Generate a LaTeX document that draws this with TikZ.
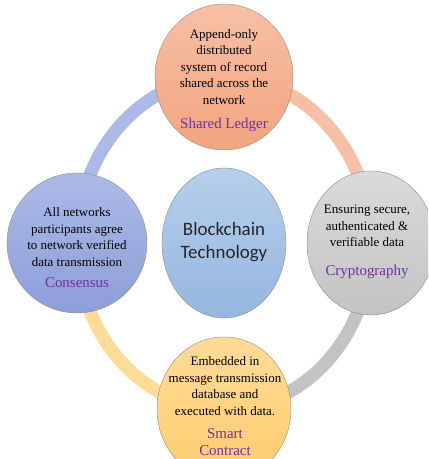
\documentclass[tikz,border=0pt]{standalone}
\usepackage{fontspec}
\setmainfont{Liberation Serif}
\newfontfamily\hubfont{Carlito}
\usepackage{tikz}
\usetikzlibrary{shapes.geometric,backgrounds,positioning}
\definecolor{tagpurple}{HTML}{7030A0}
\definecolor{ledgertop}{HTML}{F7C0A6}
\definecolor{ledgerbot}{HTML}{F2A47F}
\definecolor{cryptotop}{HTML}{DADADA}
\definecolor{cryptobot}{HTML}{C3C3C3}
\definecolor{contracttop}{HTML}{FFDB98}
\definecolor{contractbot}{HTML}{FFCC6E}
\definecolor{consensustop}{HTML}{ABBAE7}
\definecolor{consensusbot}{HTML}{8D9ED9}
\definecolor{hubtop}{HTML}{B6CFEC}
\definecolor{hubbot}{HTML}{95B6DF}
\tikzstyle{pillar} = [ellipse, draw=black!45, line width=0.4pt, inner sep=0pt]
\tikzstyle{desc} = [align=center, inner sep=0pt, font=\fontsize{13}{16.5}\selectfont]
\tikzstyle{tag} = [align=center, inner sep=0pt, text=tagpurple, font=\fontsize{15}{17}\selectfont]
\tikzstyle{band} = [line width=13bp]

\begin{document}
\begin{tikzpicture}[x=1bp, y=1bp]
    \useasboundingbox (0,0) rectangle (428,459);
    \clip (0,0) rectangle (428,459);

    % hub and the four pillars on the ring
    \node[pillar, minimum width=124bp, minimum height=150bp, top color=hubtop, bottom color=hubbot] (hub) at (224,216) {};
    \node[pillar, minimum width=138bp, minimum height=146bp, top color=ledgertop, bottom color=ledgerbot] (ledger) at (224,382) {};
    \node[pillar, minimum width=128bp, minimum height=144bp, top color=cryptotop, bottom color=cryptobot] (crypto) at (371,216) {};
    \node[pillar, minimum width=134bp, minimum height=144bp, top color=contracttop, bottom color=contractbot] (contract) at (224,50) {};
    \node[pillar, minimum width=140bp, minimum height=140bp, top color=consensustop, bottom color=consensusbot] (consensus) at (77,216) {};

    \node[align=center, inner sep=0pt, font=\hubfont\fontsize{19}{23}\selectfont, text=black!85] (hubtext) at (224,216.5) {Blockchain\\Technology};

    \node[desc] (ledgerdesc) at (224,392) {Append-only\\distributed\\system of record\\shared across the\\network};
    \node[tag] (ledgertag) at (224,334) {Shared Ledger};

    \node[desc] (cryptodesc) at (367,233) {Ensuring secure,\\authenticated \&\\verifiable data};
    \node[tag] (cryptotag) at (367,187) {Cryptography};

    \node[desc] (contractdesc) at (225,73) {Embedded in\\message transmission\\database and\\executed with data.};
    \node[tag] (contracttag) at (225,17) {Smart\\Contract};

    \node[desc] (consensusdesc) at (77,222) {All networks\\participants agree\\to network verified\\data transmission};
    \node[tag] (consensustag) at (77,176) {Consensus};

    % ring behind the pillars
    \begin{pgfonlayer}{background}
        \draw[band, consensustop] (consensus.center) arc[start angle=180, end angle=90, x radius=147, y radius=166];
        \draw[band, ledgertop] (ledger.center) arc[start angle=90, end angle=0, x radius=147, y radius=166];
        \draw[band, cryptobot] (crypto.center) arc[start angle=0, end angle=-90, x radius=147, y radius=166];
        \draw[band, contracttop] (contract.center) arc[start angle=-90, end angle=-180, x radius=147, y radius=166];
    \end{pgfonlayer}

\end{tikzpicture}
\end{document}
